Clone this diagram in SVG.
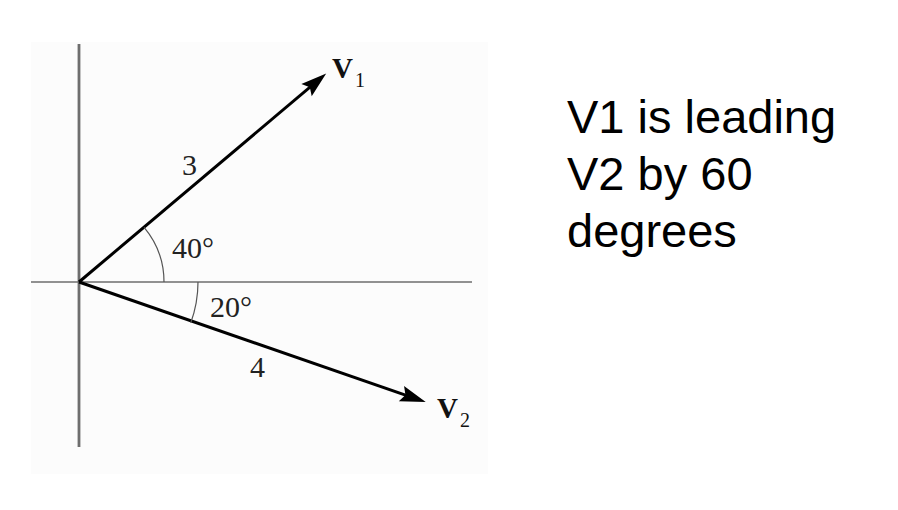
<svg xmlns="http://www.w3.org/2000/svg" width="898" height="510" viewBox="0 0 898 510">
<style>
.axis{stroke:#6e6e6e;fill:none}
.vec{stroke:#000;stroke-width:3;fill:none}
.arc{stroke:#555;stroke-width:1.2;fill:none}
.lbl{font-family:"Liberation Serif","Times New Roman",serif;font-size:30px;fill:#222}
.vname{font-family:"Liberation Serif","Times New Roman",serif;font-weight:bold;font-size:29px;fill:#111}
.sub{font-family:"Liberation Serif","Times New Roman",serif;font-size:20px;fill:#111}
.note{font-family:"Liberation Sans",Arial,sans-serif;font-size:47px;fill:#000}
</style>
<defs>
<marker id="ah" markerUnits="userSpaceOnUse" markerWidth="30" markerHeight="20" viewBox="-16 -9 28 18" refX="0" refY="0" orient="auto">
<path d="M10,0 L-14,-7.5 L-10,0 L-14,7.5 Z" fill="#000"/>
</marker>
</defs>
<rect width="898" height="510" fill="#fff"/>
<rect x="31" y="42" width="457" height="432" fill="#fcfcfc"/>
<g id="axes">
<line class="axis" x1="79" y1="44" x2="79" y2="447" stroke-width="2.8"/>
<line class="axis" x1="31" y1="282" x2="472" y2="282" stroke-width="1.6"/>
</g>
<g id="connectors">
<line id="v1-line" class="vec" x1="79" y1="282" x2="318" y2="80.4" marker-end="url(#ah)"/>
<line id="v2-line" class="vec" x1="79" y1="282" x2="415.6" y2="398.6" marker-end="url(#ah)"/>
</g>
<g id="angle40">
<path class="arc" d="M164,282 A85,85 0 0 0 144.1,227.4"/>
<text class="lbl" x="172" y="258">40°</text>
</g>
<g id="angle20">
<path class="arc" d="M198,282 A119,119 0 0 1 190.8,322.7"/>
<text class="lbl" x="210" y="317">20°</text>
</g>
<g id="mag3"><text class="lbl" x="182" y="175">3</text></g>
<g id="mag4"><text class="lbl" x="250" y="377">4</text></g>
<g id="V1"><text class="vname" x="332" y="78">V</text><text class="sub" x="355" y="87">1</text></g>
<g id="V2"><text class="vname" x="437" y="418">V</text><text class="sub" x="460" y="427">2</text></g>
<g id="note">
<text class="note" x="567" y="133">V1 is leading</text>
<text class="note" x="567" y="190">V2 by 60</text>
<text class="note" x="567" y="247">degrees</text>
</g>
</svg>
